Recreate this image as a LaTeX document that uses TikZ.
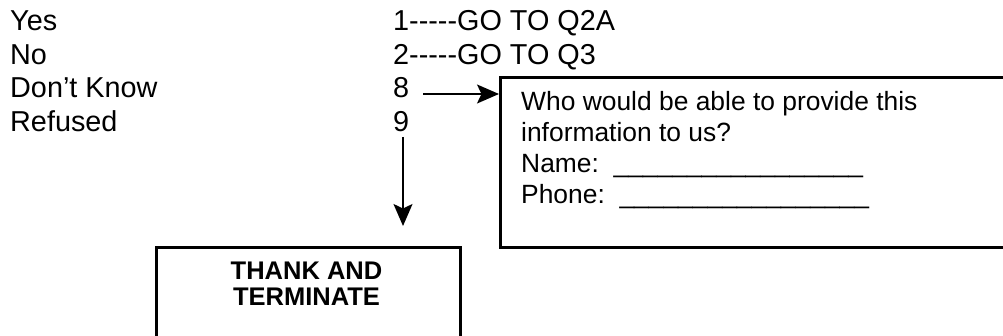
\documentclass[tikz,border=0pt]{standalone}
\usepackage{fontspec}
\setmainfont{Liberation Sans}
\usetikzlibrary{arrows.meta}
\newcommand\fivedash{-{}-{}-{}-{}-}
\begin{document}
\begin{tikzpicture}[x=1pt,y=-1pt,
  lbl/.style={anchor=base west, inner sep=0pt, font=\fontsize{28.8}{33}\selectfont},
  boxtxt/.style={anchor=base west, inner sep=0pt, font=\fontsize{26.4}{30}\selectfont},
  boldtxt/.style={anchor=base, inner sep=0pt, font=\fontsize{25.5}{28}\selectfont\bfseries},
  frame/.style={draw, line width=3pt, inner sep=0pt, anchor=north west},
  arr/.style={line width=1.6pt, -{Stealth[length=22pt,width=19pt,inset=4.5pt]}}]
\useasboundingbox (0,0) rectangle (1003,336);
% left column
\node[lbl] (yes) at (10,30.5) {Yes};
\node[lbl] (no) at (10,64.1) {No};
\node[lbl] (dk) at (10,97.7) {Don’t Know};
\node[lbl] (ref) at (10,131.3) {Refused};
% codes
\node[lbl] (c1) at (393,30.5) {1\fivedash GO TO Q2A};
\node[lbl] (c2) at (393,64.1) {2\fivedash GO TO Q3};
\node[lbl] (c8) at (393,97.7) {8};
\node[lbl] (c9) at (393,131.3) {9};
% info box
\node[frame, minimum width=540pt, minimum height=170pt] (info) at (499,76) {};
\node[boxtxt] (w1) at (521,111) {Who would be able to provide this};
\node[boxtxt] (w2) at (521,141.7) {information to us?};
\node[boxtxt] (w3) at (521,172.4) {Name:\ \ \_\_\_\_\_\_\_\_\_\_\_\_\_\_\_\_\_};
\node[boxtxt] (w4) at (521,203.1) {Phone:\ \ \_\_\_\_\_\_\_\_\_\_\_\_\_\_\_\_\_};
% thank box
\node[frame, minimum width=304pt, minimum height=130pt] (thank) at (154.5,246) {};
\node[boldtxt] (t1) at (306.5,280) {THANK AND};
\node[boldtxt] (t2) at (306.5,305.5) {TERMINATE};
% connectors
\coordinate (s8) at (423,94);
\draw[arr] (s8) -- (s8 -| info.west);
\coordinate (s9) at (403,137);
\coordinate (e9) at (403,226);
\draw[arr] (s9) -- (e9);
\end{tikzpicture}
\end{document}
